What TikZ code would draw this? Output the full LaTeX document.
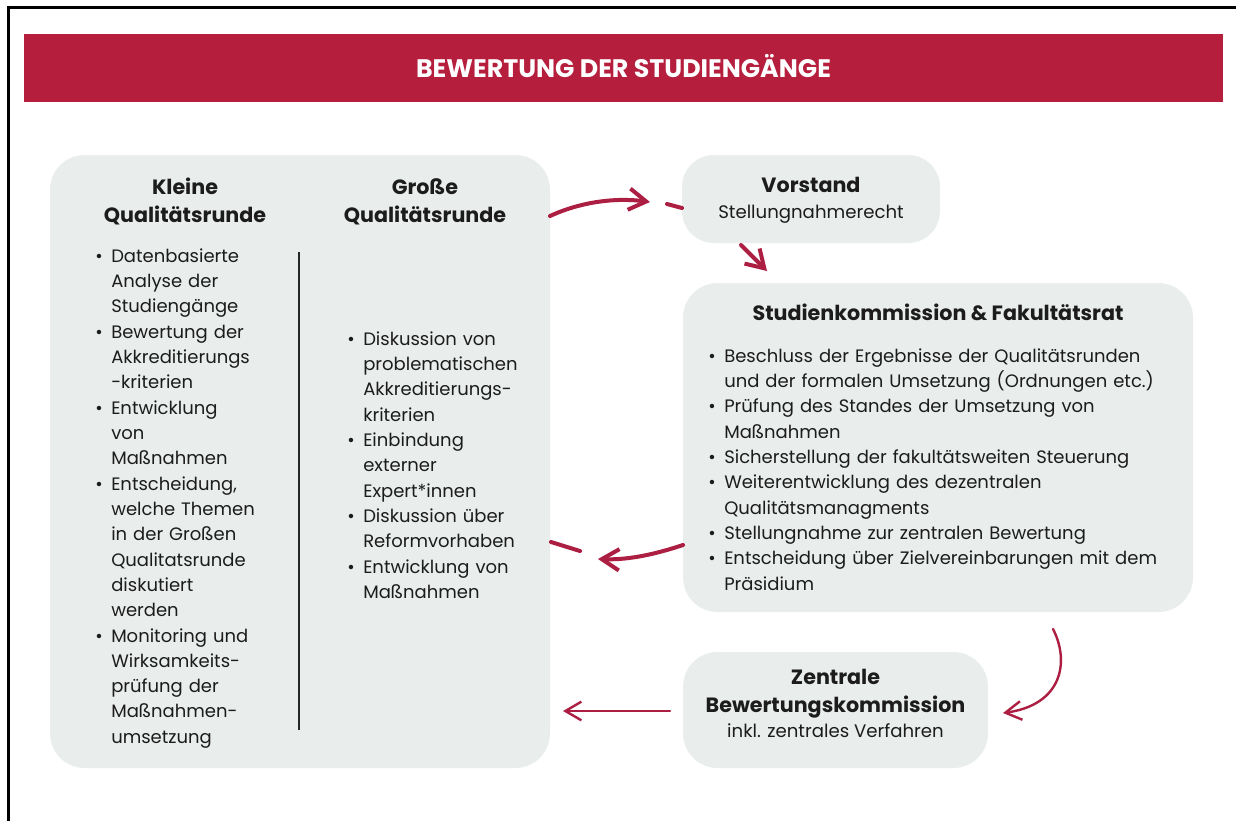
\documentclass[tikz,border=0pt]{standalone}
\usepackage{fontspec}
\setmainfont{Poppins}
\usetikzlibrary{arrows.meta}
\definecolor{banner}{HTML}{B51E3D}
\definecolor{arr}{HTML}{AC1F43}
\definecolor{boxgray}{HTML}{E9EDEC}
\definecolor{txt}{HTML}{1C1C1C}
\newcommand\bl{\makebox[12pt][l]{•}}
\newcommand\ind{\hspace*{12pt}}
\tikzset{
  box/.style={fill=boxgray, draw=none, rounded corners=26pt, inner sep=0pt},
  title/.style={font=\fontsize{15.5}{21}\selectfont\bfseries, text=txt, align=center, inner sep=0pt},
  body/.style={font=\fontsize{13.5}{19}\selectfont, text=txt, inner sep=0pt, anchor=base west, text width=360pt},
  sub/.style={font=\fontsize{13.6}{19}\selectfont, text=txt, align=center, inner sep=0pt},
  bigarrow/.style={draw=arr, line width=3pt, line cap=round, -{Straight Barb[length=13pt,width=16pt,line width=3pt]}},
  smallarrow/.style={draw=arr, line width=1.8pt, line cap=round, -{Straight Barb[length=12pt,width=14pt,line width=1.8pt]}},
  dashpiece/.style={draw=arr, line width=3pt, line cap=round}
}
\begin{document}
\begin{tikzpicture}[x=0.75pt,y=-0.75pt]
\useasboundingbox (0,0) rectangle (1236,821);
\fill[white] (0,0) rectangle (1236,821);
% frame (top and left edges)
\draw[line width=2.25pt, black] (8,821) -- (8,7) -- (1236,7);
% banner
\node[fill=banner, minimum width=899.25pt, minimum height=51pt, inner sep=0pt] (banner) at (623.5,68) {};
\node[font=\fontsize{19}{21}\selectfont\bfseries, text=white, inner sep=0pt, anchor=base] (bannertext) at (623.5,77) {BEWERTUNG DER STUDIENGÄNGE};
% boxes
\node[box, minimum width=375pt, minimum height=459.75pt] (qr) at (300,461.5) {};
\node[box, minimum width=193.5pt, minimum height=66pt, rounded corners=24pt] (vs) at (811,199) {};
\node[box, minimum width=382.5pt, minimum height=246.75pt] (sk) at (938,447.5) {};
\node[box, minimum width=228.75pt, minimum height=87pt] (zb) at (835.5,710) {};
% separator
\draw[line width=1.5pt, black!85] (298.5,252) -- (298.5,730);
% left box titles
\node[title, anchor=base] (kt) at (185,222) {Kleine\\Qualitätsrunde};
\node[title, anchor=base] (gt) at (425,222) {Große\\Qualitätsrunde};
% left list
\node[body] (kl) at (95,262) {%
\bl Datenbasierte\\
\ind Analyse der\\
\ind Studiengänge\\
\bl Bewertung der\\
\ind Akkreditierungs\\
\ind -kriterien\\
\bl Entwicklung\\
\ind von\\
\ind Maßnahmen\\
\bl Entscheidung,\\
\ind welche Themen\\
\ind in der Großen\\
\ind Qualitatsrunde\\
\ind diskutiert\\
\ind werden\\
\bl Monitoring und\\
\ind Wirksamkeits-\\
\ind prüfung der\\
\ind Maßnahmen-\\
\ind umsetzung};
% middle list
\node[body] (gl) at (347,345) {%
\bl Diskussion von\\
\ind problematischen\\
\ind Akkreditierungs-\\
\ind kriterien\\
\bl Einbindung\\
\ind externer\\
\ind Expert*innen\\
\bl Diskussion über\\
\ind Reformvorhaben\\
\bl Entwicklung von\\
\ind Maßnahmen};
% Vorstand
\node[title, anchor=base] (vt) at (811,192) {Vorstand};
\node[sub, anchor=base] (vsub) at (811,218) {Stellungnahmerecht};
% Studienkommission
\node[title, anchor=base] (skt) at (938,320) {Studienkommission \& Fakultätsrat};
\node[body] (skl) at (708,362) {%
\bl Beschluss der Ergebnisse der Qualitätsrunden\\
\ind und der formalen Umsetzung (Ordnungen etc.)\\
\bl Prüfung des Standes der Umsetzung von\\
\ind Maßnahmen\\
\bl Sicherstellung der fakultätsweiten Steuerung\\
\bl Weiterentwicklung des dezentralen\\
\ind Qualitätsmanagments\\
\bl Stellungnahme zur zentralen Bewertung\\
\bl Entscheidung über Zielvereinbarungen mit dem\\
\ind Präsidium};
% Zentrale
\node[title, anchor=base] (zt) at (835.5,712) {Zentrale\\Bewertungskommission};
\node[sub, anchor=base] (zsub) at (835.5,737) {inkl. zentrales Verfahren};
% connectors
\coordinate (a1s) at (550,216);
\coordinate (a1e) at (650,202);
\coordinate (d1s) at (667,204);
\coordinate (d1e) at (682,208);
\draw[bigarrow] (a1s) .. controls (585,200) and (620,198) .. (a1e);
\draw[dashpiece] (d1s) -- (d1e);
\coordinate (a2s) at (741,245);
\coordinate (a2e) at (767,271);
\draw[bigarrow] (a2s) -- (a2e);
\coordinate (a3s) at (683,545);
\coordinate (a3e) at (598,559);
\coordinate (d3s) at (551,542);
\coordinate (d3e) at (580,551);
\draw[bigarrow] (a3s) .. controls (650,556) and (625,560) .. (a3e);
\draw[dashpiece] (d3s) -- (d3e);
\coordinate (a4s) at (1053,629);
\coordinate (a4e) at (1003,713);
\draw[smallarrow] (a4s) .. controls (1070,662) and (1062,705) .. (a4e);
\coordinate (a5s) at (670,711);
\coordinate (a5e) at (563,711);
\draw[smallarrow] (a5s) -- (a5e);
\end{tikzpicture}
\end{document}
